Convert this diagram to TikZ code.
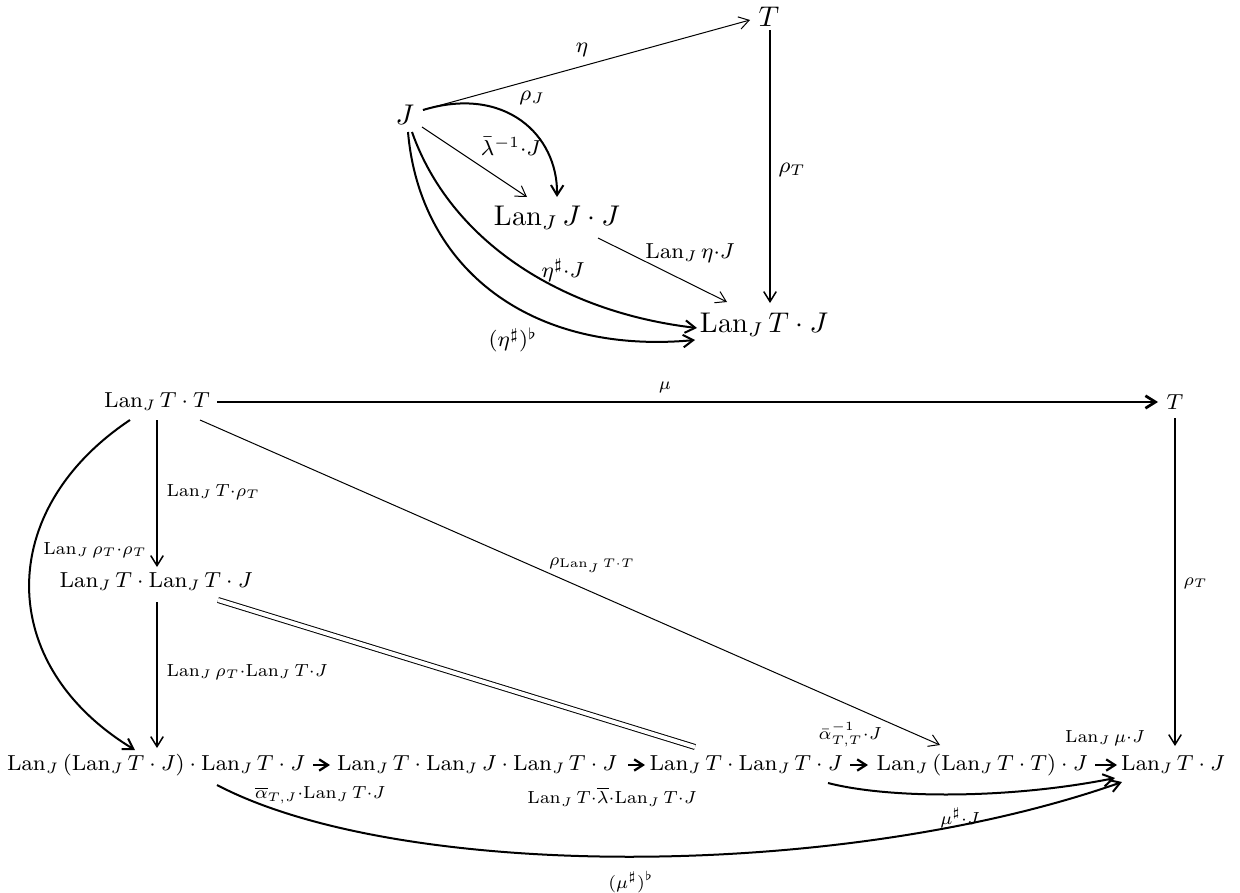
\RequirePackage{fix-cm}
\documentclass[tikz,border=0pt]{standalone}
\usepackage{amsmath}
\usetikzlibrary{arrows.meta,calc}
\newcommand\LJ{\mathrm{Lan}_J\,}
\newcommand\bls[1]{{\fontsize{10}{12}\selectfont$\scriptstyle #1$}}
\newcommand\tls[1]{{\fontsize{12.4}{14}\selectfont$\scriptstyle #1$}}
\begin{document}
\begin{tikzpicture}[x=0.4pt,y=-0.4pt,
  every node/.style={inner sep=0pt},
  bobj/.style={font=\fontsize{8.7}{11}\selectfont},
  tobj/.style={font=\fontsize{11.4}{13}\selectfont},
  tip/.style={-{Straight Barb[length=4pt,width=5pt]}},
  thinar/.style={tip, line width=0.4pt},
  midar/.style={tip, line width=0.6pt},
  thickar/.style={tip, line width=0.8pt},
  bigar/.style={tip, line width=1.1pt},
  rowar/.style={-{Straight Barb[length=3.5pt,width=4.5pt]}, line width=0.9pt},
  dbl/.style={double, double distance=1.6pt, line width=0.4pt}
]
\useasboundingbox (0,0) rectangle (1240,893);

% ---------- top diagram ----------
\node[tobj] (tT) at (769,17) {$T$};
\node[tobj] (tJ) at (405,115) {$J$};
\node[tobj] (tLJJ) at (557,218) {$\LJ J\cdot J$};
\node[tobj] (tLTJ) at (764,325) {$\LJ T\cdot J$};

\draw[thinar] ($(tJ)+(18,-5)$) -- ($(tT)+(-19,3)$);
\draw[midar] ($(tT)+(1,13)$) -- ($(tLTJ)+(6,-22)$);
\draw[thickar] ($(tJ)+(18,-5)$) .. controls (505,85) and (558,135) .. ($(tLJJ)+(0,-21)$);
\draw[thinar] ($(tJ)+(17,12)$) -- ($(tLJJ)+(-30,-21)$);
\draw[thinar] ($(tLJJ)+(41,20)$) -- ($(tLTJ)+(-37,-23)$);
\draw[thickar] ($(tJ)+(7,17)$) .. controls (450,240) and (560,312) .. ($(tLTJ)+(-67,3)$);
\draw[thickar] ($(tJ)+(3,17)$) .. controls (420,270) and (532,355) .. ($(tLTJ)+(-69,15)$);

\node (l1) at (582,50) {\tls{\eta}};
\node[anchor=west] (l2) at (778,170) {\tls{\rho_T}};
\node (l3) at (532,98) {\tls{\rho_J}};
\node (l4) at (511,146) {\tls{\bar\lambda^{-1}\cdot J}};
\node (l5) at (690,253) {\tls{\LJ \eta\cdot J}};
\node (l6) at (563,270) {\tls{\eta^\sharp\cdot J}};
\node (l7) at (513,340) {\tls{(\eta^\sharp)^\flat}};

% ---------- bottom diagram ----------
\node[bobj] (bLTT) at (157,402) {$\LJ T\cdot T$};
\node[bobj] (bT) at (1175,402) {$T$};
\node[bobj] (bLL) at (156,582) {$\LJ T\cdot \LJ T\cdot J$};
\node[bobj] (r1) at (156,765) {$\LJ(\LJ T\cdot J)\cdot \LJ T\cdot J$};
\node[bobj] (r2) at (477,765) {$\LJ T\cdot \LJ J\cdot \LJ T\cdot J$};
\node[bobj] (r3) at (746,765) {$\LJ T\cdot \LJ T\cdot J$};
\node[bobj] (r4) at (982,765) {$\LJ(\LJ T\cdot T)\cdot J$};
\node[bobj] (r5) at (1173,765) {$\LJ T\cdot J$};

\draw[bigar] ($(bLTT)+(60,0)$) -- ($(bT)+(-17,0)$);
\draw[midar] ($(bT)+(0,16)$) -- ($(r5)+(2,-19)$);
\draw[midar] ($(bLTT)+(0,18)$) -- ($(bLL)+(1,-15)$);
\draw[midar] ($(bLL)+(1,20)$) -- ($(r1)+(1,-17)$);
\draw[thickar] ($(bLTT)+(-27,18)$) .. controls (-5,510) and (-5,665) .. ($(r1)+(-21,-15)$);
\draw[thinar] ($(bLTT)+(43,18)$) -- ($(r4)+(-42,-20)$);
\draw[dbl] ($(bLL)+(62,18)$) -- ($(r3)+(-51,-18)$);

\draw[rowar] ($(r1)+(157,0)$) -- ($(r2)+(-147,0)$);
\draw[rowar] ($(r2)+(151,0)$) -- ($(r3)+(-101,0)$);
\draw[rowar] ($(r3)+(104,0)$) -- ($(r4)+(-114,0)$);
\draw[rowar] ($(r4)+(113,0)$) -- ($(r5)+(-56,0)$);

\draw[thickar] ($(r3)+(82,18)$) .. controls (890,799) and (1010,799) .. ($(r5)+(-58,13)$);
\draw[thickar] ($(r1)+(61,20)$) .. controls (400,881) and (840,881) .. ($(r5)+(-51,17)$);

\node (m1) at (665,387) {\bls{\mu}};
\node[anchor=west] (m2) at (166,492) {\bls{\LJ T\cdot\rho_T}};
\node (m3) at (95,550) {\bls{\LJ \rho_T\cdot\rho_T}};
\node[anchor=west] (m4) at (166,672) {\bls{\LJ \rho_T\cdot\LJ T\cdot J}};
\node (m5) at (592,565) {\bls{\rho_{\LJ T\cdot T}}};
\node[anchor=west] (m6) at (1183,583) {\bls{\rho_T}};
\node (m7) at (850,735) {\bls{\bar\alpha^{-1}_{T,T}\cdot J}};
\node (m8) at (1105,738) {\bls{\LJ \mu\cdot J}};
\node (m9) at (320,795) {\bls{\overline{\alpha}_{T,J}\cdot\LJ T\cdot J}};
\node (m10) at (612,797) {\bls{\LJ T\cdot\overline{\lambda}\cdot\LJ T\cdot J}};
\node (m11) at (960,818) {\bls{\mu^\sharp\cdot J}};
\node (m12) at (631,882) {\bls{(\mu^\sharp)^\flat}};
\end{tikzpicture}
\end{document}
